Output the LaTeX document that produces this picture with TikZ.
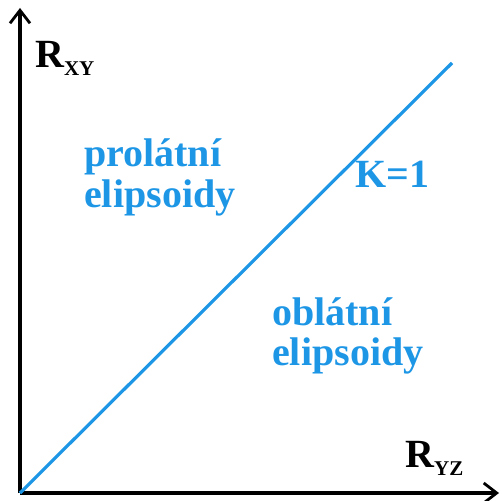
\documentclass[tikz,border=0pt]{standalone}
\usepackage{fontspec}
\setmainfont{Liberation Serif}
\usetikzlibrary{arrows.meta}
\definecolor{kblue}{RGB}{30,150,230}
\tikzset{
  axis/.style={line width=3.2bp, -{Straight Barb[length=13bp,width=20bp,line width=2.8bp]}},
  lbl/.style={anchor=base west, inner sep=0pt, font=\fontsize{40bp}{40bp}\selectfont\bfseries},
  region/.style={lbl, text=kblue, align=left},
}
\newcommand{\subtxt}[1]{\raisebox{-8bp}{\fontsize{21bp}{21bp}\selectfont #1}}
\begin{document}
\begin{tikzpicture}[x=1bp, y=-1bp]
  \useasboundingbox (0,0) rectangle (502,501);
  \coordinate (o) at (20,493);
  \coordinate (ytip) at (20,8);
  \coordinate (xtip) at (499,493);
  \coordinate (kend) at (452,63);
  % axes
  \draw[axis] (o) -- (ytip);
  \draw[axis] (o) -- (xtip);
  % K = 1 line
  \draw[kblue, line width=3.2bp] (o) -- (kend);
  % labels
  \node[lbl] (rxy) at (35,68) {R\subtxt{XY}};
  \node[lbl] (ryz) at (405,467) {R\subtxt{YZ}};
  \node[region] (prol) at (84,207) {prolátní\\elipsoidy};
  \node[region] (obl) at (272,365) {oblátní\\elipsoidy};
  \node[lbl, text=kblue] (k) at (355,188) {K=1};
\end{tikzpicture}
\end{document}
